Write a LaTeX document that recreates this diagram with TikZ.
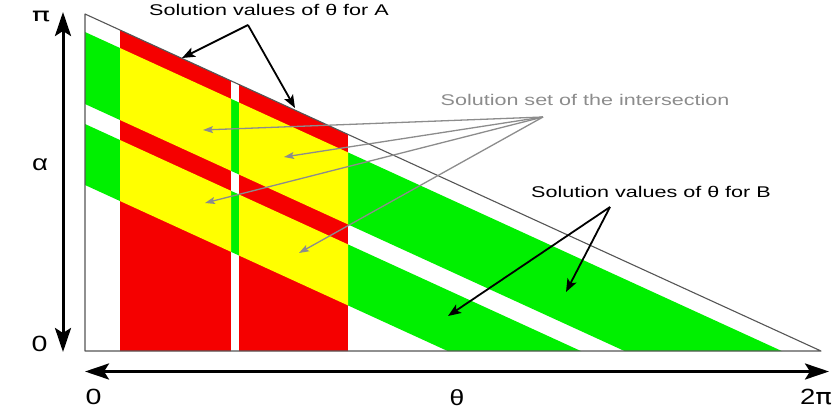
\documentclass[tikz,border=0pt]{standalone}
\usepackage{fontspec}
\setmainfont{Liberation Sans}
\newfontfamily\pifont{DejaVu Sans}
\usetikzlibrary{arrows.meta}
\definecolor{bgreen}{RGB}{0,240,0}
\definecolor{ared}{RGB}{245,0,0}
\definecolor{byellow}{RGB}{255,255,0}
\definecolor{edgegray}{RGB}{85,85,85}
\definecolor{notegray}{RGB}{140,140,140}
\newcommand\hstretch[2]{\scalebox{#1}[1]{#2}}
\begin{document}
\begin{tikzpicture}[x=1pt,y=-1pt,
  axisline/.style={line width=3pt,{Stealth[length=24pt,width=16pt,inset=5pt]}-{Stealth[length=24pt,width=16pt,inset=5pt]}},
  blkarrow/.style={line width=1.8pt,-{Stealth[length=13pt,width=10pt,inset=3pt]}},
  grayarrow/.style={draw=notegray,line width=1.3pt,-{Stealth[length=10pt,width=7pt,inset=2pt]}},
  lab/.style={font=\fontsize{15.5}{18}\selectfont,inner sep=0pt},
  axl/.style={font=\fontsize{22}{26}\selectfont,inner sep=0pt},
  greenband/.style={fill=bgreen},
  redstrip/.style={fill=ared},
  yellowband/.style={fill=byellow},
  triedge/.style={draw=edgegray,line width=1.1pt,line join=round}]
\useasboundingbox (0,0) rectangle (837,414);
\coordinate (tl) at (85,14);
\coordinate (bl) at (85,351);
\coordinate (br) at (821,351);
% filled regions
\begin{scope}
  \clip (tl) -- (bl) -- (br) -- cycle;
  \path[greenband] (85,32) -- (830,373.1) -- (830,445.1) -- (85,104) -- cycle;
  \path[greenband] (85,124) -- (830,465.1) -- (830,526.1) -- (85,185) -- cycle;
  \path[redstrip] (120,0) rectangle (231,360);
  \path[redstrip] (239,0) rectangle (348,360);
  \begin{scope}
    \clip (120,0) rectangle (231,360) (239,0) rectangle (348,360);
    \path[yellowband] (85,32) -- (830,373.1) -- (830,445.1) -- (85,104) -- cycle;
    \path[yellowband] (85,124) -- (830,465.1) -- (830,526.1) -- (85,185) -- cycle;
  \end{scope}
\end{scope}
\draw[triedge] (tl) -- (bl) -- (br) -- cycle;
% axes
\coordinate (yt) at (63,12);
\coordinate (yb) at (63,352);
\coordinate (xl) at (85,371.5);
\coordinate (xr) at (829,371.5);
\draw[axisline] (yb) -- (yt);
\draw[axisline] (xl) -- (xr);
\node[axl,font=\fontsize{19}{22}\selectfont] (pitop) at (41,16) {\hstretch{1.6}{\pifont π}};
\node[axl] (alpha) at (40,165) {\hstretch{1.25}{α}};
\node[axl] (zeroa) at (39.5,343.5) {\hstretch{1.3}{0}};
\node[axl] (zerot) at (93.5,396.5) {\hstretch{1.3}{0}};
\node[axl] (theta) at (457,398) {\hstretch{1.2}{θ}};
\node[axl] (twopi) at (816,397) {\hstretch{1.25}{2{\pifont π}}};
% annotations
\node[lab] (labA) at (269,10) {\hstretch{1.39}{Solution values of θ for A}};
\node[lab,text=notegray] (labI) at (585,100) {\hstretch{1.39}{Solution set of the intersection}};
\node[lab] (labB) at (651,191.5) {\hstretch{1.39}{Solution values of θ for B}};
\coordinate (jA) at (248,25);
\coordinate (tA1) at (182,58);
\coordinate (tA2) at (295,108);
\draw[blkarrow] (jA) -- (tA1);
\draw[blkarrow] (jA) -- (tA2);
\coordinate (jI) at (543,117);
\coordinate (tI1) at (203,130);
\coordinate (tI2) at (284,157);
\coordinate (tI3) at (205,203);
\coordinate (tI4) at (299,253);
\draw[grayarrow] (jI) -- (tI1);
\draw[grayarrow] (jI) -- (tI2);
\draw[grayarrow] (jI) -- (tI3);
\draw[grayarrow] (jI) -- (tI4);
\coordinate (jB) at (610,207);
\coordinate (tB1) at (448,316);
\coordinate (tB2) at (566,292);
\draw[blkarrow] (jB) -- (tB1);
\draw[blkarrow] (jB) -- (tB2);
\end{tikzpicture}
\end{document}
